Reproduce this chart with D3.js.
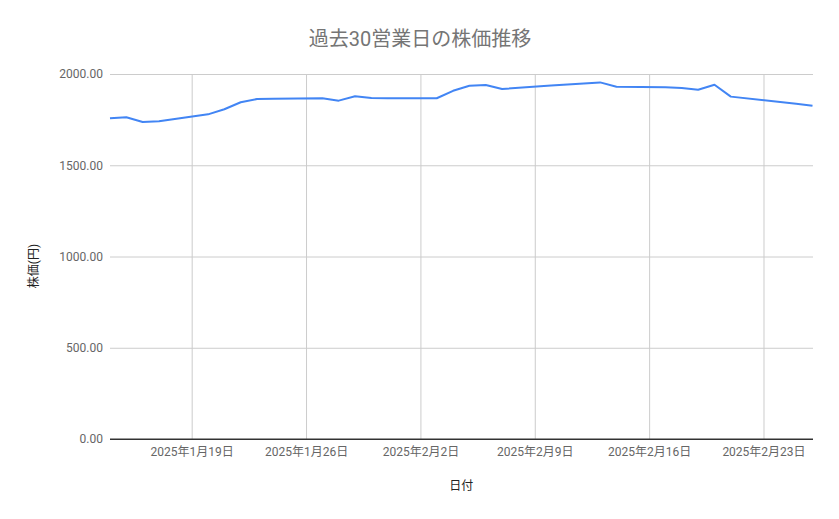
<!DOCTYPE html>
<html>
<head>
<meta charset="utf-8">
<script src="https://cdn.jsdelivr.net/npm/d3@7"></script>
<style>
  body { margin: 0; background: #fff; }
  text { font-family: Roboto, "Noto Sans CJK JP", sans-serif; }
</style>
</head>
<body>
<script>
// 30 business days (Feb 11 and Feb 24 are holidays)
let dates = ["2025-01-14","2025-01-15","2025-01-16","2025-01-17",
  "2025-01-20","2025-01-21","2025-01-22","2025-01-23","2025-01-24",
  "2025-01-27","2025-01-28","2025-01-29","2025-01-30","2025-01-31",
  "2025-02-03","2025-02-04","2025-02-05","2025-02-06","2025-02-07",
  "2025-02-10","2025-02-12","2025-02-13","2025-02-14",
  "2025-02-17","2025-02-18","2025-02-19","2025-02-20","2025-02-21",
  "2025-02-25","2025-02-26"];
let prices = [1757, 1763, 1737, 1741,
  1779, 1807, 1845, 1863, 1865,
  1867, 1854, 1878, 1868, 1867,
  1867, 1908, 1936, 1940, 1918,
  1937, 1948, 1954, 1930,
  1927, 1923, 1914, 1941, 1876,
  1837, 1826];
let xTicks = ["2025-01-19","2025-01-26","2025-02-02","2025-02-09","2025-02-16","2025-02-23"];
let yTicks = [0, 500, 1000, 1500, 2000];

let size = {width: 839, height: 519};
let plot = {left: 110, right: 812.5, top: 74, bottom: 439};
let parse = d3.utcParse("%Y-%m-%d");
let data = dates.map((d, i) => ({date: parse(d), value: prices[i]}));

let svg = d3.select("body").append("svg")
    .attr("width", size.width).attr("height", size.height);

let x = d3.scaleUtc()
    .domain([parse("2025-01-14"), parse("2025-02-26")])
    .range([plot.left, plot.right]);
let y = d3.scaleLinear().domain([0, 2000]).range([plot.bottom, plot.top]);

// horizontal grid + y labels
let yAxis = svg.append("g")
    .attr("transform", `translate(${plot.left},0)`)
    .call(d3.axisLeft(y).tickValues(yTicks).tickFormat(d3.format(".2f"))
      .tickSize(-(plot.right + 0.5 - plot.left)).tickPadding(7));
yAxis.select(".domain").remove();
yAxis.selectAll("line").attr("stroke", d => d === 0 ? "#333" : "#ccc");
yAxis.selectAll("text").attr("fill", "#666").style("font-size", "12px");

// vertical grid + x labels
let xAxis = svg.append("g")
    .attr("transform", `translate(0,${plot.bottom})`)
    .call(d3.axisBottom(x).tickValues(xTicks.map(parse))
      .tickFormat(d => `${d.getUTCFullYear()}年${d.getUTCMonth() + 1}月${d.getUTCDate()}日`)
      .tickSize(-(plot.bottom - plot.top)).tickPadding(8));
xAxis.select(".domain").remove();
xAxis.selectAll("line").attr("stroke", "#ccc");
xAxis.selectAll("text").attr("fill", "#666").style("font-size", "12px").attr("dy", "0.75em");

// redraw baseline over vertical grid
svg.append("line")
    .attr("x1", plot.left).attr("x2", plot.right + 0.5)
    .attr("y1", y(0)).attr("y2", y(0))
    .attr("stroke", "#333");

let line = d3.line().x(d => x(d.date)).y(d => y(d.value));
svg.append("path")
    .datum(data)
    .attr("fill", "none")
    .attr("stroke", "#4285f4")
    .attr("stroke-width", 2)
    .attr("stroke-linejoin", "round")
    .attr("d", line);

svg.append("text")
    .attr("x", 420).attr("y", 46)
    .attr("text-anchor", "middle")
    .attr("fill", "#757575")
    .style("font-size", "20px")
    .text("過去30営業日の株価推移");

svg.append("text")
    .attr("x", (plot.left + plot.right) / 2).attr("y", 490)
    .attr("text-anchor", "middle")
    .attr("fill", "#222")
    .style("font-size", "12px")
    .text("日付");

svg.append("text")
    .attr("transform", `translate(38,266) rotate(-90)`)
    .attr("text-anchor", "middle")
    .attr("fill", "#222")
    .style("font-size", "12px")
    .text("株価(円)");
</script>
</body>
</html>
